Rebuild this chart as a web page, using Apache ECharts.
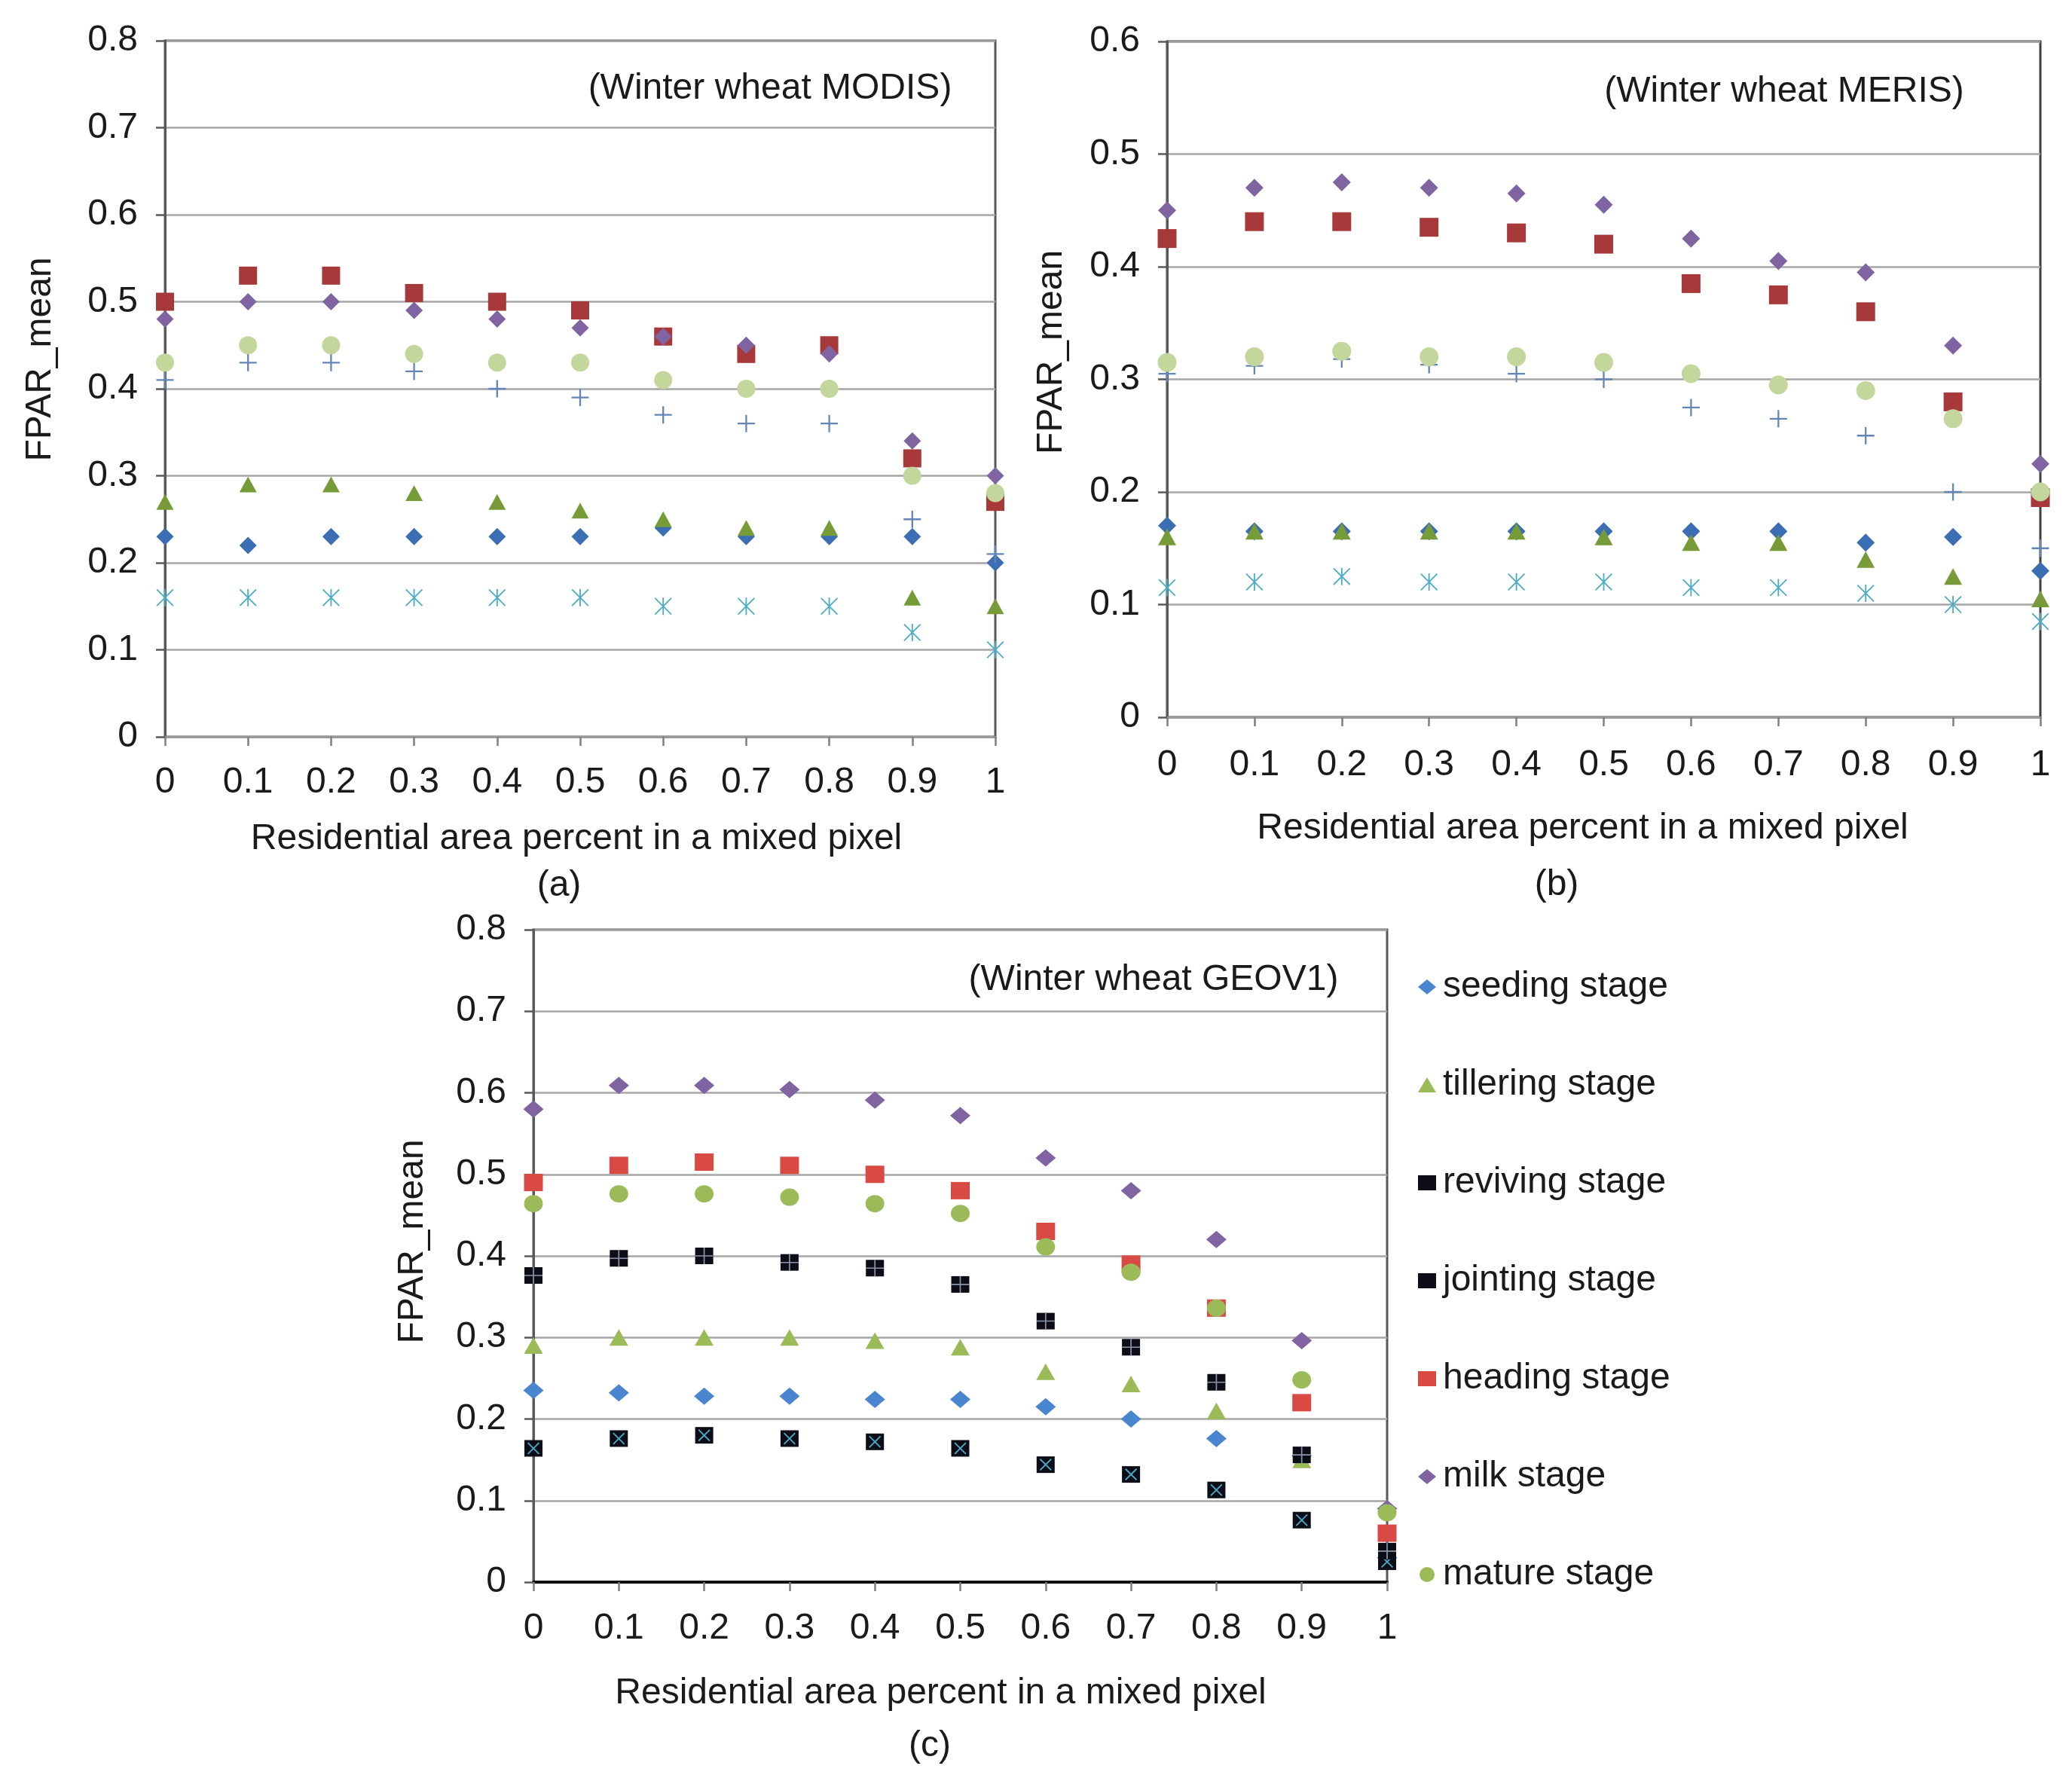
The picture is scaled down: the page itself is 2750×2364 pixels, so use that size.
<!DOCTYPE html>
<html lang="en">
<head>
    <meta charset="UTF-8">
    <title>FPAR_mean - Winter wheat</title>
    <style>
        html, body { margin: 0; padding: 0; background: #ffffff; }
        #main { width: 2750px; height: 2364px; }
    </style>
</head>
<body>
<div id="main"></div>
<script src="https://cdn.jsdelivr.net/npm/echarts@6/dist/echarts.min.js"></script>
<script>
    // residential area percent (x) shared by all three panels
    var xs = [0, 0.1, 0.2, 0.3, 0.4, 0.5, 0.6, 0.7, 0.8, 0.9, 1];
    var stages = ['seeding stage', 'tillering stage', 'reviving stage', 'jointing stage',
                  'heading stage', 'milk stage', 'mature stage'];

    // (a) Winter wheat MODIS
    var modisSeeding   = [0.23, 0.22, 0.23, 0.23, 0.23, 0.23, 0.24, 0.23, 0.23, 0.23, 0.20];
    var modisTillering = [0.27, 0.29, 0.29, 0.28, 0.27, 0.26, 0.25, 0.24, 0.24, 0.16, 0.15];
    var modisReviving  = [0.16, 0.16, 0.16, 0.16, 0.16, 0.16, 0.15, 0.15, 0.15, 0.12, 0.10];
    var modisJointing  = [0.41, 0.43, 0.43, 0.42, 0.40, 0.39, 0.37, 0.36, 0.36, 0.25, 0.21];
    var modisHeading   = [0.50, 0.53, 0.53, 0.51, 0.50, 0.49, 0.46, 0.44, 0.45, 0.32, 0.27];
    var modisMilk      = [0.48, 0.50, 0.50, 0.49, 0.48, 0.47, 0.46, 0.45, 0.44, 0.34, 0.30];
    var modisMature    = [0.43, 0.45, 0.45, 0.44, 0.43, 0.43, 0.41, 0.40, 0.40, 0.30, 0.28];

    // (b) Winter wheat MERIS
    var merisSeeding   = [0.17, 0.165, 0.165, 0.165, 0.165, 0.165, 0.165, 0.165, 0.155, 0.16, 0.13];
    var merisTillering = [0.16, 0.165, 0.165, 0.165, 0.165, 0.16, 0.155, 0.155, 0.14, 0.125, 0.105];
    var merisReviving  = [0.115, 0.12, 0.125, 0.12, 0.12, 0.12, 0.115, 0.115, 0.11, 0.10, 0.085];
    var merisJointing  = [0.305, 0.312, 0.318, 0.313, 0.305, 0.30, 0.275, 0.265, 0.25, 0.20, 0.15];
    var merisHeading   = [0.425, 0.44, 0.44, 0.435, 0.43, 0.42, 0.385, 0.375, 0.36, 0.28, 0.195];
    var merisMilk      = [0.45, 0.47, 0.475, 0.47, 0.465, 0.455, 0.425, 0.405, 0.395, 0.33, 0.225];
    var merisMature    = [0.315, 0.32, 0.325, 0.32, 0.32, 0.315, 0.305, 0.295, 0.29, 0.265, 0.20];

    // (c) Winter wheat GEOV1
    var geovSeeding    = [0.235, 0.232, 0.228, 0.228, 0.224, 0.224, 0.215, 0.20, 0.176, 0.155, 0.03];
    var geovTillering  = [0.29, 0.30, 0.30, 0.30, 0.296, 0.288, 0.258, 0.243, 0.21, 0.15, 0.035];
    var geovReviving   = [0.164, 0.176, 0.18, 0.176, 0.172, 0.164, 0.144, 0.132, 0.113, 0.076, 0.025];
    var geovJointing   = [0.376, 0.397, 0.40, 0.392, 0.385, 0.365, 0.32, 0.288, 0.245, 0.156, 0.038];
    var geovHeading    = [0.49, 0.511, 0.515, 0.511, 0.50, 0.48, 0.43, 0.39, 0.336, 0.22, 0.06];
    var geovMilk       = [0.58, 0.609, 0.609, 0.604, 0.591, 0.572, 0.52, 0.48, 0.42, 0.296, 0.09];
    var geovMature     = [0.464, 0.476, 0.476, 0.472, 0.464, 0.452, 0.411, 0.38, 0.336, 0.248, 0.085];

    var FONT = 'Liberation Sans, Arial, sans-serif';
    var TEXT = '#1a1a1a';
    var FS = 48;

    // marker shapes (filled paths, all drawn in the same winding)
    var PLUS  = 'path://M9,0h2v9h9v2h-9v9h-2v-9h-9v-2h9z';
    var ASTER = 'path://M9.2,0h1.6v20h-1.6z M0,1.1L1.1,0L20,18.9L18.9,20z M18.9,0L20,1.1L1.1,20L0,18.9z';
    var XMARK = 'path://M0,1.6L1.6,0L20,18.4L18.4,20z M18.4,0L20,1.6L1.6,20L0,18.4z';
    var CROSS = 'path://M9.3,0h1.4v20h-1.4z M0,9.3h20v1.4h-20z';

    function pts(vals) {
        return xs.map(function (x, i) { return [x, vals[i]]; });
    }

    function scatter(name, idx, vals, symbol, size, color) {
        return {
            name: name,
            type: 'scatter',
            xAxisIndex: idx,
            yAxisIndex: idx,
            data: pts(vals),
            symbol: symbol,
            symbolSize: size,
            clip: false,
            silent: true,
            itemStyle: { color: color, opacity: 1 }
        };
    }

    // namePad shifts the axis title left of the plot centre, as in the figure
    function xAxisCfg(idx, lineColor, lineWidth, labelMargin, nameGap, namePad) {
        return {
            type: 'value', gridIndex: idx, min: 0, max: 1, interval: 0.1,
            name: 'Residential area percent in a mixed pixel',
            nameLocation: 'middle', nameGap: nameGap,
            nameTextStyle: { fontSize: FS, color: TEXT, fontFamily: FONT, padding: [0, namePad, 0, 0] },
            axisLine: { show: true, onZero: false, lineStyle: { color: lineColor, width: lineWidth } },
            axisTick: { show: true, length: 12, lineStyle: { color: '#7f7f7f', width: 2.5 } },
            axisLabel: { fontSize: FS, color: TEXT, fontFamily: FONT, margin: labelMargin },
            splitLine: { show: false }
        };
    }

    function yAxisCfg(idx, max, nameGap, namePad) {
        return {
            type: 'value', gridIndex: idx, min: 0, max: max, interval: 0.1,
            name: 'FPAR_mean',
            nameLocation: 'middle', nameGap: nameGap,
            nameTextStyle: { fontSize: FS, color: TEXT, fontFamily: FONT, padding: [0, 0, 0, namePad] },
            axisLine: { show: true, lineStyle: { color: '#595959', width: 3 } },
            axisTick: { show: true, length: 12, lineStyle: { color: '#595959', width: 2.5 } },
            axisLabel: { fontSize: FS, color: TEXT, fontFamily: FONT, margin: 36 },
            splitLine: { show: true, lineStyle: { color: '#a6a6a6', width: 2.5 } }
        };
    }

    function titleCfg(text, x, y) {
        return {
            text: text, left: x, top: y, padding: 0,
            textAlign: 'center', textVerticalAlign: 'middle',
            textStyle: { fontSize: FS, fontWeight: 'normal', color: TEXT, fontFamily: FONT }
        };
    }

    var series = [
        // (a) MODIS
        scatter('a seeding', 0, modisSeeding, 'diamond', [23, 23], '#3c6eb4'),
        scatter('a tillering', 0, modisTillering, 'triangle', [23, 21], '#789b3a'),
        scatter('a reviving', 0, modisReviving, ASTER, [23, 23], '#4bacc6'),
        scatter('a jointing', 0, modisJointing, PLUS, [23, 23], '#6385b8'),
        scatter('a heading', 0, modisHeading, 'rect', [24, 24], '#a8393a'),
        scatter('a milk', 0, modisMilk, 'diamond', [23, 23], '#8064a2'),
        scatter('a mature', 0, modisMature, 'circle', [24, 24], '#c3d69b'),
        // (b) MERIS
        scatter('b seeding', 1, merisSeeding, 'diamond', [24, 24], '#3c6eb4'),
        scatter('b tillering', 1, merisTillering, 'triangle', [24, 22], '#789b3a'),
        scatter('b reviving', 1, merisReviving, ASTER, [23, 23], '#4bacc6'),
        scatter('b jointing', 1, merisJointing, PLUS, [23, 23], '#6385b8'),
        scatter('b heading', 1, merisHeading, 'rect', [25, 25], '#a8393a'),
        scatter('b milk', 1, merisMilk, 'diamond', [24, 24], '#8064a2'),
        scatter('b mature', 1, merisMature, 'circle', [25, 25], '#c3d69b'),
        // (c) GEOV1
        scatter(stages[0], 2, geovSeeding, 'diamond', [27, 23], '#4a86cf'),
        scatter(stages[1], 2, geovTillering, 'triangle', [25, 22], '#9bbb59'),
        scatter(stages[2], 2, geovReviving, 'rect', [24, 22], '#0d0d18'),
        scatter('c reviving mark', 2, geovReviving, XMARK, [16, 16], '#4bacc6'),
        scatter(stages[3], 2, geovJointing, 'rect', [24, 22], '#0d0d18'),
        scatter('c jointing mark', 2, geovJointing, CROSS, [24, 22], '#8a96a8'),
        scatter(stages[4], 2, geovHeading, 'rect', [25, 23], '#d94a45'),
        scatter(stages[5], 2, geovMilk, 'diamond', [27, 23], '#8064a2'),
        scatter(stages[6], 2, geovMature, 'circle', [25, 23], '#9bbb59')
    ];

    var myChart = echarts.init(document.getElementById('main'), null, { renderer: 'canvas' });

    var option = {
        backgroundColor: '#ffffff',
        animation: false,
        title: [
            titleCfg('(Winter wheat MODIS)', 1022, 118),
            titleCfg('(a)', 742, 1176),
            titleCfg('(Winter wheat MERIS)', 2368, 122),
            titleCfg('(b)', 2066, 1175),
            titleCfg('(Winter wheat GEOV1)', 1531, 1301),
            titleCfg('(c)', 1234, 2318)
        ],
        legend: {
            data: stages,
            orient: 'vertical',
            left: 1877,
            top: 1280,
            itemWidth: 24,
            itemHeight: 20,
            itemGap: 80,
            selectedMode: false,
            textStyle: { fontSize: FS, color: TEXT, fontFamily: FONT, lineHeight: 50, padding: [0, 0, 0, 4] }
        },
        grid: [
            { left: 219, top: 54, width: 1102, height: 924, show: true, borderColor: '#595959', borderWidth: 3, containLabel: false },
            { left: 1549, top: 55, width: 1159, height: 897, show: true, borderColor: '#404040', borderWidth: 3, containLabel: false },
            { left: 708, top: 1234, width: 1133, height: 866, show: true, borderColor: '#595959', borderWidth: 3, containLabel: false }
        ],
        xAxis: [
            xAxisCfg(0, '#9a9a9a', 3, 37, 112, 10),
            xAxisCfg(1, '#9a9a9a', 3, 40, 124, 56),
            xAxisCfg(2, '#111111', 4, 38, 124, 52)
        ],
        yAxis: [
            yAxisCfg(0, 0.8, 141, 78),
            yAxisCfg(1, 0.6, 129, 72),
            yAxisCfg(2, 0.8, 136, 38)
        ],
        series: series
    };

    myChart.setOption(option);
</script>
</body>
</html>
